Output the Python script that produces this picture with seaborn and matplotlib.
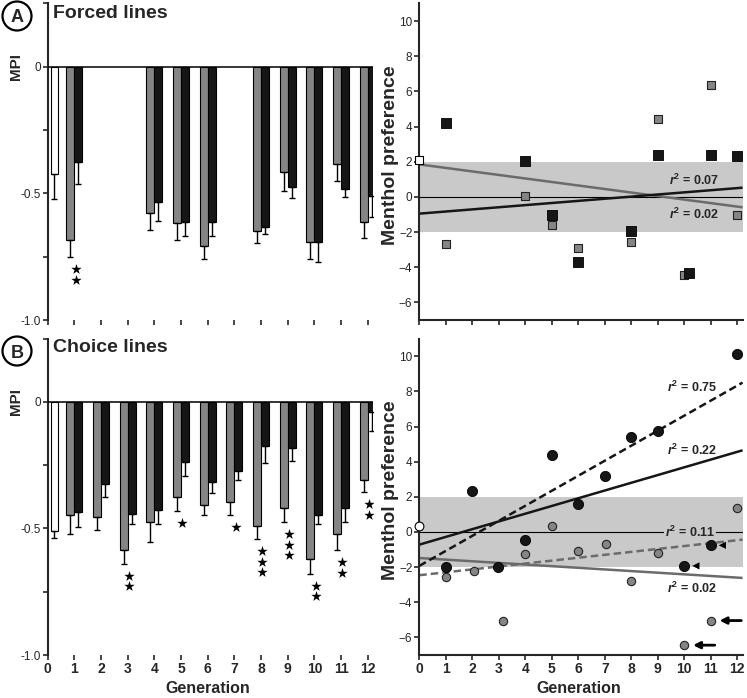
import numpy as np
import pandas as pd
import matplotlib
matplotlib.use('Agg')
import matplotlib.pyplot as plt
import seaborn as sns
from matplotlib.patches import Ellipse
from matplotlib.colors import to_hex

sns.set_style('ticks')
plt.rcParams['font.family'] = ['Liberation Sans', 'DejaVu Sans']
plt.rcParams['mathtext.fontset'] = 'custom'
plt.rcParams['mathtext.rm'] = 'Liberation Sans'
plt.rcParams['mathtext.it'] = 'Liberation Sans:italic'
plt.rcParams['mathtext.bf'] = 'Liberation Sans:bold'
plt.rcParams['mathtext.bfit'] = 'Liberation Sans:italic:bold'

# ---- data: MPI bars (forced lines) ----
forced_gen = [1, 4, 5, 6, 8, 9, 10, 11, 12]
forced_grey = [-0.684, -0.576, -0.618, -0.709, -0.650, -0.415, -0.693, -0.385, -0.611]
forced_grey_err = [0.068, 0.068, 0.064, 0.049, 0.047, 0.075, 0.067, 0.064, 0.066]
forced_black = [-0.375, -0.535, -0.611, -0.614, -0.631, -0.473, -0.693, -0.481, -0.512]
forced_black_err = [0.089, 0.074, 0.056, 0.053, 0.030, 0.047, 0.079, 0.034, 0.080]
forced_ctrl = -0.424
forced_ctrl_err = 0.099
forced_stars = [2, 0, 0, 0, 0, 0, 0, 0, 0]

# ---- data: MPI bars (choice lines) ----
choice_gen = [1, 2, 3, 4, 5, 6, 7, 8, 9, 10, 11, 12]
choice_grey = [-0.446, -0.455, -0.587, -0.476, -0.376, -0.408, -0.397, -0.492, -0.419, -0.619, -0.521, -0.307]
choice_grey_err = [0.076, 0.053, 0.053, 0.076, 0.054, 0.038, 0.049, 0.050, 0.056, 0.060, 0.066, 0.049]
choice_black = [-0.433, -0.326, -0.441, -0.426, -0.238, -0.318, -0.272, -0.173, -0.181, -0.446, -0.419, -0.040]
choice_black_err = [0.062, 0.050, 0.042, 0.057, 0.054, 0.042, 0.038, 0.068, 0.053, 0.037, 0.057, 0.076]
choice_ctrl = -0.511
choice_ctrl_err = 0.027
choice_stars = [0, 0, 2, 0, 1, 0, 1, 3, 3, 2, 2, 2]

# ---- data: menthol preference (forced lines, squares) ----
sq_black_gen = [1, 4, 5, 6, 8, 9, 10.18, 11, 12]
sq_black_val = [4.20, 2.03, -1.00, -3.69, -1.91, 2.40, -4.34, 2.40, 2.33]
sq_grey_gen = [1, 4, 5, 6, 8, 9, 10, 11, 12]
sq_grey_val = [-2.65, 0.04, -1.61, -2.90, -2.56, 4.43, -4.45, 6.35, -1.00]
sq_ctrl_gen, sq_ctrl_val = 0, 2.10

# ---- data: menthol preference (choice lines, circles) ----
circ_black_gen = [1, 2, 2.98, 4, 5, 6, 7, 8, 9, 10, 11, 12]
circ_black_val = [-1.99, 2.31, -1.99, -0.45, 4.40, 1.61, 3.17, 5.41, 5.73, -1.93, -0.76, 10.15]
circ_grey_gen = [1, 2.07, 3.15, 4, 5, 6, 7.05, 8, 9, 10, 11, 12]
circ_grey_val = [-2.56, -2.20, -5.04, -1.27, 0.34, -1.06, -0.68, -2.80, -1.17, -6.44, -5.04, 1.39]
circ_ctrl_gen, circ_ctrl_val = 0, 0.34

# regression lines: intercept, slope, r2 label
fit_a_black = (-0.95, 0.121, '0.07')
fit_a_grey = (1.85, -0.200, '0.02')
fit_b_black = (-0.72, 0.440, '0.22')
fit_b_black_dash = (-1.93, 0.855, '0.75')
fit_b_grey = (-1.48, -0.093, '0.02')
fit_b_grey_dash = (-2.46, 0.166, '0.11')

GREY = '#858585'
BLACK = '#161616'
BAND = '#c9c9c9'
LGREY = '#6b6b6b'
XMAX = 12.2

fig = plt.figure(figsize=(7.47, 6.98), dpi=100)
axA = fig.add_axes([0.0639, 0.5415, 0.4355, 0.4535])
axB = fig.add_axes([0.0639, 0.0616, 0.4355, 0.4532])
axC = fig.add_axes([0.5613, 0.5415, 0.4328, 0.4535])
axD = fig.add_axes([0.5613, 0.0616, 0.4328, 0.4532])


def bar_panel(ax, gen, grey, grey_err, black, black_err, ctrl, ctrl_err, stars, bottom):
    df = pd.DataFrame({'gen': gen + gen, 'mpi': grey + black,
                       'line': ['grey'] * len(gen) + ['black'] * len(gen)})
    sns.barplot(data=df, x='gen', y='mpi', hue='line', hue_order=['grey', 'black'],
                palette={'grey': GREY, 'black': BLACK}, native_scale=True, width=0.6,
                dodge=True, errorbar=None, edgecolor='black', linewidth=0.8,
                legend=False, ax=ax)
    # bar centres as placed by seaborn, split by colour
    gx, bx = [], []
    for p in ax.patches:
        if p.get_width() <= 0:
            continue
        c = p.get_x() + p.get_width() / 2
        if to_hex(p.get_facecolor()) == GREY:
            gx.append(c)
        else:
            bx.append(c)
    gx, bx = sorted(gx), sorted(bx)
    z = np.zeros(len(gen))
    ax.errorbar(gx, grey, yerr=[grey_err, z], fmt='none', ecolor='black',
                elinewidth=1, capsize=2.2, capthick=1)
    ax.errorbar(bx, black, yerr=[black_err, z], fmt='none', ecolor='black',
                elinewidth=1, capsize=2.2, capthick=1)
    ax.bar(0.24, ctrl, width=0.27, color='white', edgecolor='black', linewidth=0.8)
    ax.errorbar([0.24], [ctrl], yerr=[[ctrl_err], [0]], fmt='none', ecolor='black',
                elinewidth=1, capsize=2.2, capthick=1)
    # significance stars under the grey bars
    sx, sy = [], []
    for gi, m, e, n in zip(gen, grey, grey_err, stars):
        for k in range(n):
            sx.append(gi + 0.05)
            sy.append(m - e - 0.047 - 0.042 * k)
    if sx:
        ax.scatter(sx, sy, marker='*', s=62, color='black', linewidths=0, zorder=5)
    ax.axhline(0, color='black', lw=1.1, zorder=3)
    ax.set_xlim(0, XMAX)
    ax.set_ylim(-1.0, 0.25)
    ax.set_yticks([0.25, 0, -0.25, -0.5, -0.75, -1.0])
    ax.set_yticklabels(['', '0', '', '-0.5', '', '-1.0'])
    ax.set_xticks(range(13))
    for s in ['top', 'right', 'bottom']:
        ax.spines[s].set_visible(False)
    ax.spines['left'].set_linewidth(1.5)
    ax.tick_params(axis='both', direction='out', length=3.5, width=1.2, labelsize=8.5, pad=1.5)
    ax.set_ylabel('MPI', fontsize=11, fontweight='bold')
    ax.yaxis.set_label_coords(-0.076, 0.80)
    if bottom:
        ax.set_xticklabels([str(i) for i in range(13)], fontsize=10, fontweight='bold')
        ax.set_xlabel('Generation', fontsize=11.5, fontweight='bold')
        ax.xaxis.set_label_coords(6 / XMAX, -0.082)
    else:
        ax.set_xticklabels([])
        ax.set_xlabel('')


bar_panel(axA, forced_gen, forced_grey, forced_grey_err, forced_black, forced_black_err,
          forced_ctrl, forced_ctrl_err, forced_stars, False)
bar_panel(axB, choice_gen, choice_grey, choice_grey_err, choice_black, choice_black_err,
          choice_ctrl, choice_ctrl_err, choice_stars, True)


def r2_label(val):
    return r'$\mathbfit{r}^{\mathbf{2}}$' + ' = ' + val


def scatter_panel(ax, bottom):
    ax.axhspan(-2, 2, color=BAND, lw=0, zorder=0)
    ax.axhline(0, color='black', lw=0.8, zorder=1)
    ax.set_xlim(0, XMAX)
    ax.set_ylim(-7, 11)
    ax.set_yticks(range(-6, 11, 2))
    ax.set_xticks(range(13))
    for s in ['top', 'right']:
        ax.spines[s].set_visible(False)
    ax.spines['left'].set_linewidth(1.5)
    ax.spines['bottom'].set_linewidth(1.5)
    ax.tick_params(axis='both', direction='out', length=3.5, width=1.2, labelsize=8.5, pad=1.5)
    ax.set_ylabel('Menthol preference', fontsize=14, fontweight='bold')
    ax.yaxis.set_label_coords(-0.062, 0.52)
    if bottom:
        ax.set_xticklabels([str(i) for i in range(13)], fontsize=10, fontweight='bold')
        ax.set_xlabel('Generation', fontsize=11.5, fontweight='bold')
        ax.xaxis.set_label_coords(6 / XMAX, -0.082)
    else:
        ax.set_xticklabels([])


def fit_line(ax, fit, color, ls):
    xs = np.array([0, XMAX])
    ax.plot(xs, fit[0] + fit[1] * xs, color=color, lw=1.8, ls=ls, zorder=2,
            solid_capstyle='butt')


# ---- top right: forced lines ----
scatter_panel(axC, False)
fit_line(axC, fit_a_grey, LGREY, '-')
fit_line(axC, fit_a_black, BLACK, '-')
sns.scatterplot(x=sq_grey_gen, y=sq_grey_val, marker='s', s=34, color=GREY,
                edgecolor='#222222', linewidth=0.8, ax=axC, zorder=4)
sns.scatterplot(x=sq_black_gen, y=sq_black_val, marker='s', s=50, color=BLACK,
                edgecolor='black', linewidth=0.6, ax=axC, zorder=4)
sns.scatterplot(x=[sq_ctrl_gen], y=[sq_ctrl_val], marker='s', s=34, color='white',
                edgecolor='black', linewidth=0.8, ax=axC, zorder=5, clip_on=False)
axC.text(9.42, 0.95, r2_label(fit_a_black[2]), fontsize=9, fontweight='bold', va='center')
axC.text(9.42, -0.98, r2_label(fit_a_grey[2]), fontsize=9, fontweight='bold', va='center')

# ---- bottom right: choice lines ----
scatter_panel(axD, True)
fit_line(axD, fit_b_grey, LGREY, '-')
fit_line(axD, fit_b_grey_dash, LGREY, (0, (3, 1.6)))
fit_line(axD, fit_b_black, BLACK, '-')
fit_line(axD, fit_b_black_dash, BLACK, (0, (3, 1.6)))
sns.scatterplot(x=circ_grey_gen, y=circ_grey_val, marker='o', s=36, color=GREY,
                edgecolor='#222222', linewidth=0.8, ax=axD, zorder=4)
sns.scatterplot(x=circ_black_gen, y=circ_black_val, marker='o', s=54, color=BLACK,
                edgecolor='black', linewidth=0.6, ax=axD, zorder=4)
sns.scatterplot(x=[circ_ctrl_gen], y=[circ_ctrl_val], marker='o', s=40, color='white',
                edgecolor='black', linewidth=0.8, ax=axD, zorder=5, clip_on=False)
axD.text(9.33, 8.25, r2_label(fit_b_black_dash[2]), fontsize=9, fontweight='bold', va='center')
axD.text(9.33, 4.65, r2_label(fit_b_black[2]), fontsize=9, fontweight='bold', va='center')
axD.text(9.27, 0.0, r2_label(fit_b_grey_dash[2]), fontsize=9, fontweight='bold', va='center',
         bbox=dict(facecolor=BAND, edgecolor='none', pad=0.6), zorder=3)
axD.text(9.33, -3.22, r2_label(fit_b_grey[2]), fontsize=9, fontweight='bold', va='center')

# arrows marking points
for i in [-2, -3]:
    gx, gy = circ_grey_gen[i], circ_grey_val[i]
    axD.annotate('', xy=(gx + 0.33, gy), xytext=(gx + 1.15, gy),
                 arrowprops=dict(arrowstyle='-|>', color='black', lw=2.0,
                                 mutation_scale=10, shrinkA=0, shrinkB=0))
    bx, by = circ_black_gen[i], circ_black_val[i]
    axD.annotate('', xy=(bx + 0.3, by), xytext=(bx + 0.65, by),
                 arrowprops=dict(arrowstyle='-|>', color='black', lw=0,
                                 mutation_scale=13, shrinkA=0, shrinkB=0))

# panel letters and titles
for letter, title, ycirc, ybase in [('A', 'Forced lines', 16, 18), ('B', 'Choice lines', 351, 352)]:
    fig.add_artist(Ellipse((17 / 747, 1 - ycirc / 698), width=29 / 747, height=29 / 698,
                           transform=fig.transFigure, fill=False, lw=1.6, ec='black'))
    fig.text(17 / 747, 1 - ycirc / 698, letter, fontsize=13, fontweight='bold',
             ha='center', va='center_baseline')
    fig.text(53 / 747, 1 - ybase / 698, title, fontsize=14, fontweight='bold',
             ha='left', va='baseline')

plt.savefig('out.png', dpi=100)
